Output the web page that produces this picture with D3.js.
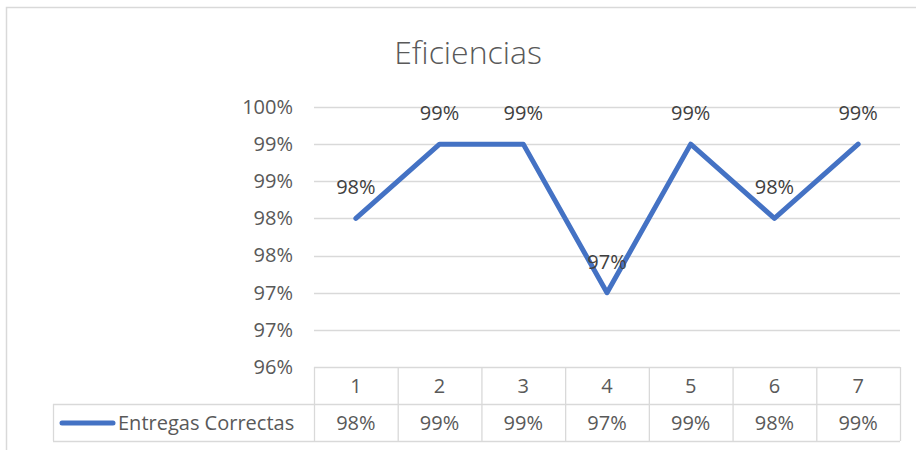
<!DOCTYPE html>
<html>
<head>
<meta charset="utf-8">
<script src="https://cdn.jsdelivr.net/npm/d3@7"></script>
<style>
  body { margin: 0; background: #fff; }
  text { font-family: "Open Sans", "Noto Sans", sans-serif; }
</style>
</head>
<body>
<div id="chart"></div>
<script>
// data
var categories = ["1", "2", "3", "4", "5", "6", "7"];
var seriesName = "Entregas Correctas";
var values = [0.985, 0.995, 0.995, 0.975, 0.995, 0.985, 0.995];
var valueLabels = ["98%", "99%", "99%", "97%", "99%", "98%", "99%"];
var yTicks = [0.965, 0.97, 0.975, 0.98, 0.985, 0.99, 0.995, 1.0];
var yTickLabels = ["96%", "97%", "97%", "98%", "98%", "99%", "99%", "100%"];

var W = 916, H = 450;
var plot = {left: 314, right: 900, top: 107, bottom: 367};
var rowH = 37;
var tableLeft = 53;
var blue = "#4472C4", grid = "#d9d9d9", txt = "#595959";

var svg = d3.select("#chart").append("svg")
  .attr("width", W)
  .attr("height", H);

// chart frame
svg.append("rect")
  .attr("x", 6.5).attr("y", 7.5)
  .attr("width", W + 10).attr("height", H + 10)
  .attr("fill", "#fff")
  .attr("stroke", "#d9d9d9")
  .attr("stroke-width", 1.5);

var x = d3.scaleBand()
  .domain(categories)
  .range([plot.left, plot.right]);

var y = d3.scaleLinear()
  .domain([yTicks[0], yTicks[yTicks.length - 1]])
  .range([plot.bottom, plot.top]);

// title
svg.append("text")
  .attr("x", 468).attr("y", 64)
  .attr("text-anchor", "middle")
  .style("font-size", "32px")
  .style("font-weight", 300)
  .style("fill", txt)
  .text("Eficiencias");

// gridlines
svg.append("g").selectAll("line")
  .data(yTicks.slice(1))
  .enter().append("line")
  .attr("x1", plot.left).attr("x2", plot.right)
  .attr("y1", function(d) { return Math.round(y(d)) + 0.5; })
  .attr("y2", function(d) { return Math.round(y(d)) + 0.5; })
  .attr("stroke", grid)
  .attr("stroke-width", 1.3);

// y axis labels
var yAxis = d3.axisLeft(y)
  .tickValues(yTicks)
  .tickSize(0)
  .tickPadding(0)
  .tickFormat(function(d, i) { return yTickLabels[i]; });

var ya = svg.append("g")
  .attr("transform", "translate(293,0)")
  .call(yAxis);
ya.select(".domain").remove();
ya.selectAll("text")
  .style("font-size", "20px")
  .style("fill", txt)
  .style("font-family", "'Open Sans', sans-serif");

// data table
var tb = svg.append("g").attr("stroke", grid).attr("stroke-width", 1.3);
// horizontal lines
tb.append("line").attr("x1", plot.left).attr("x2", plot.right)
  .attr("y1", plot.bottom + 0.5).attr("y2", plot.bottom + 0.5);
tb.append("line").attr("x1", tableLeft).attr("x2", plot.right)
  .attr("y1", plot.bottom + rowH + 0.5).attr("y2", plot.bottom + rowH + 0.5);
tb.append("line").attr("x1", tableLeft).attr("x2", plot.right)
  .attr("y1", plot.bottom + 2 * rowH + 0.5).attr("y2", plot.bottom + 2 * rowH + 0.5);
// vertical lines
tb.selectAll("line.v")
  .data(categories.concat(["end"]))
  .enter().append("line")
  .attr("class", "v")
  .attr("x1", function(d) { return (d === "end" ? plot.right : x(d)) + 0.5; })
  .attr("x2", function(d) { return (d === "end" ? plot.right : x(d)) + 0.5; })
  .attr("y1", plot.bottom)
  .attr("y2", plot.bottom + 2 * rowH);
tb.append("line").attr("x1", tableLeft + 0.5).attr("x2", tableLeft + 0.5)
  .attr("y1", plot.bottom + rowH).attr("y2", plot.bottom + 2 * rowH);

// category labels
svg.append("g").selectAll("text")
  .data(categories)
  .enter().append("text")
  .attr("x", function(d) { return x(d) + x.bandwidth() / 2; })
  .attr("y", plot.bottom + rowH / 2 + 7)
  .attr("text-anchor", "middle")
  .style("font-size", "20px")
  .style("fill", txt)
  .text(function(d) { return d; });

// value row
svg.append("g").selectAll("text")
  .data(values)
  .enter().append("text")
  .attr("x", function(d, i) { return x(categories[i]) + x.bandwidth() / 2; })
  .attr("y", plot.bottom + rowH * 1.5 + 7)
  .attr("text-anchor", "middle")
  .style("font-size", "20px")
  .style("fill", txt)
  .text(function(d, i) { return valueLabels[i]; });

// legend key in table
svg.append("line")
  .attr("x1", 62).attr("x2", 113)
  .attr("y1", plot.bottom + rowH * 1.5 + 0.5)
  .attr("y2", plot.bottom + rowH * 1.5 + 0.5)
  .attr("stroke", blue)
  .attr("stroke-width", 5)
  .attr("stroke-linecap", "round");
svg.append("text")
  .attr("x", 118)
  .attr("y", plot.bottom + rowH * 1.5 + 7)
  .style("font-size", "20px")
  .style("fill", txt)
  .text(seriesName);

// line
var line = d3.line()
  .x(function(d, i) { return x(categories[i]) + x.bandwidth() / 2; })
  .y(function(d) { return y(d); });

svg.append("path")
  .datum(values)
  .attr("d", line)
  .attr("fill", "none")
  .attr("stroke", blue)
  .attr("stroke-width", 5)
  .attr("stroke-linejoin", "round")
  .attr("stroke-linecap", "round");

// data labels
svg.append("g").selectAll("text")
  .data(values)
  .enter().append("text")
  .attr("x", function(d, i) { return x(categories[i]) + x.bandwidth() / 2; })
  .attr("y", function(d) { return y(d) - 24; })
  .attr("text-anchor", "middle")
  .style("font-size", "20px")
  .style("fill", "#404040")
  .text(function(d, i) { return valueLabels[i]; });
</script>
</body>
</html>
